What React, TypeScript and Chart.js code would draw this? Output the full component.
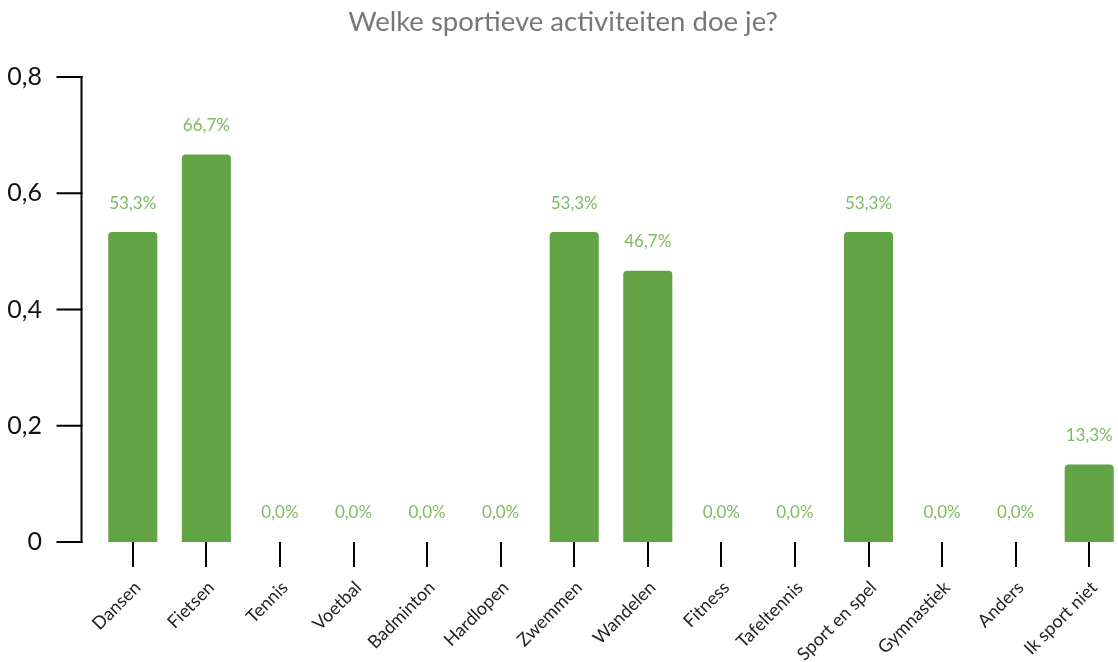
import React, { useEffect, useRef } from "react";
import { Chart, registerables } from "chart.js";

Chart.register(...registerables);

const TITLE = "Welke sportieve activiteiten doe je?";
const categories = [
  "Dansen",
  "Fietsen",
  "Tennis",
  "Voetbal",
  "Badminton",
  "Hardlopen",
  "Zwemmen",
  "Wandelen",
  "Fitness",
  "Tafeltennis",
  "Sport en spel",
  "Gymnastiek",
  "Anders",
  "Ik sport niet",
];
const values = [0.5333, 0.6667, 0, 0, 0, 0, 0.5333, 0.4667, 0, 0, 0.5333, 0, 0, 0.1333];
const yTicks = [0, 0.2, 0.4, 0.6, 0.8];

const BAR_COLOR = "#62a346";
const LABEL_COLOR = "#7cbb63";
const FONT = "Lato, 'Open Sans', sans-serif";

const fmtTick = (v: number) => String(Math.round(v * 10) / 10).replace(".", ",");
const fmtPct = (v: number) => (v * 100).toFixed(1).replace(".", ",") + "%";

const axisPlugin = {
  id: "customYAxis",
  afterDraw(chart: any) {
    const { ctx, chartArea, scales } = chart;
    const y = scales.y;
    const x0 = chartArea.left - 14.5;
    ctx.save();
    ctx.strokeStyle = "#000";
    ctx.lineWidth = 2;
    ctx.beginPath();
    ctx.moveTo(x0, y.getPixelForValue(yTicks[yTicks.length - 1]) - 1);
    ctx.lineTo(x0, y.getPixelForValue(0) + 1);
    ctx.stroke();
    yTicks.forEach((t) => {
      const py = y.getPixelForValue(t);
      ctx.beginPath();
      ctx.moveTo(x0 - 25, py);
      ctx.lineTo(x0 + 1, py);
      ctx.stroke();
    });
    ctx.restore();
  },
};

const labelPlugin = {
  id: "barLabels",
  afterDatasetsDraw(chart: any) {
    const { ctx } = chart;
    const meta = chart.getDatasetMeta(0);
    ctx.save();
    ctx.fillStyle = LABEL_COLOR;
    ctx.font = `17px ${FONT}`;
    ctx.textAlign = "center";
    ctx.textBaseline = "middle";
    meta.data.forEach((bar: any, i: number) => {
      ctx.fillText(fmtPct(values[i]), bar.x, bar.y - 29);
    });
    ctx.restore();
  },
};

export default function App() {
  const ref = useRef<HTMLCanvasElement | null>(null);

  useEffect(() => {
    document.documentElement.style.overflow = "hidden";
    document.body.style.overflow = "hidden";
    if (!ref.current) return;
    const chart = new Chart(ref.current, {
      type: "bar",
      data: {
        labels: categories,
        datasets: [
          {
            data: values,
            backgroundColor: BAR_COLOR,
            borderRadius: { topLeft: 4, topRight: 4, bottomLeft: 0, bottomRight: 0 },
            borderSkipped: false,
            barPercentage: 0.667,
            categoryPercentage: 1,
          },
        ],
      },
      options: {
        animation: false,
        responsive: false,
        maintainAspectRatio: false,
        layout: { padding: { left: 0, right: 10, top: 0, bottom: 0 } },
        plugins: {
          legend: { display: false },
          tooltip: { enabled: false },
          title: {
            display: true,
            text: TITLE,
            color: "#777777",
            font: { family: FONT, size: 27.5, weight: "normal" },
            padding: { top: 6, bottom: 38 },
          },
        },
        scales: {
          x: {
            grid: {
              display: true,
              offset: false,
              drawOnChartArea: false,
              drawTicks: true,
              tickLength: 25,
              color: "#000",
              lineWidth: 2,
            },
            border: { display: false },
            ticks: {
              autoSkip: false,
              maxRotation: 45,
              minRotation: 45,
              padding: 10,
              labelOffset: 5,
              color: "#222",
              font: { family: FONT, size: 18 },
            },
            afterFit: (s: any) => {
              s.height = 120;
            },
          },
          y: {
            min: 0,
            max: 0.8,
            grid: { display: false, drawTicks: false },
            border: { display: false },
            ticks: {
              stepSize: 0.2,
              padding: 54,
              color: "#111",
              font: { family: FONT, size: 25 },
              callback: (v: any) => fmtTick(Number(v)),
            },
            afterFit: (s: any) => {
              s.width = 96;
            },
          },
        },
      },
      plugins: [axisPlugin, labelPlugin],
    });
    return () => chart.destroy();
  }, []);

  return (
    <div style={{ position: "fixed", left: 0, top: 0, width: 1118, height: 662, overflow: "hidden", background: "#fff" }}>
      <canvas ref={ref} width={1136} height={662} style={{ width: 1136, height: 662, display: "block" }} />
    </div>
  );
}
